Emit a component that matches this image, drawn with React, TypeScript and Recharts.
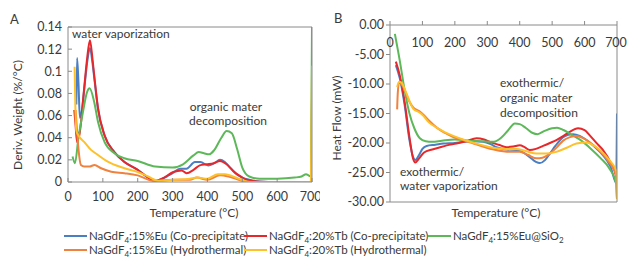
import React from 'react';
import { LineChart, Line, XAxis, YAxis } from 'recharts';

const FONT = 'Lato, "Open Sans", sans-serif';

// ---------- shared ----------
const temperatureTicks = [0, 100, 200, 300, 400, 500, 600, 700];
const derivTicks = [0, 0.02, 0.04, 0.06, 0.08, 0.1, 0.12, 0.14];
const heatTicks = [0, -5, -10, -15, -20, -25, -30];

const seriesColors = ['#4A7FC4', '#E8272B', '#5DB85A', '#F0823F', '#FDC12A'];

// ---------- Panel A: derivative weight (%/°C) ----------
const dtgEuCoTemp = [24, 26, 30, 34, 40, 47, 55, 63, 70, 75, 86, 105, 133, 162, 200, 230, 250, 270, 300, 321, 340, 364, 380, 402, 420, 436, 450, 465, 480, 500, 520, 550, 600, 650, 697, 700];
const dtgEuCoVal = [0.07, 0.112, 0.09, 0.058, 0.065, 0.085, 0.108, 0.121, 0.108, 0.095, 0.066, 0.042, 0.027, 0.018, 0.011, 0.004, 0.001, 0.003, 0.008, 0.012, 0.012, 0.018, 0.018, 0.015, 0.017, 0.02, 0.018, 0.013, 0.008, 0.004, 0.002, 0.0005, 0, 0, 0, 0.02];

const dtgTbCoTemp = [18, 22, 26, 28, 31, 36, 45, 55, 63, 70, 75, 86, 105, 133, 162, 200, 230, 250, 270, 302, 326, 340, 360, 378, 397, 418, 436, 455, 474, 495, 512, 550, 600, 650, 697, 700];
const dtgTbCoVal = [0.065, 0.05, 0.036, 0.045, 0.04, 0.05, 0.08, 0.112, 0.128, 0.112, 0.097, 0.067, 0.042, 0.027, 0.018, 0.011, 0.004, 0.001, 0.003, 0.009, 0.0105, 0.008, 0.011, 0.015, 0.016, 0.017, 0.019, 0.016, 0.01, 0.005, 0.002, 0.0003, 0, 0, 0, 0.075];

const dtgEuSiTemp = [13, 20, 30, 43, 55, 62, 75, 86, 105, 133, 162, 200, 250, 300, 330, 360, 375, 390, 405, 420, 440, 455, 470, 485, 500, 520, 550, 600, 650, 670, 683, 690, 697, 700];
const dtgEuSiVal = [0.023, 0.017, 0.04, 0.0635, 0.0815, 0.0846, 0.0725, 0.0545, 0.036, 0.026, 0.0214, 0.019, 0.014, 0.013, 0.016, 0.024, 0.027, 0.026, 0.025, 0.029, 0.04, 0.046, 0.044, 0.03, 0.013, 0.005, 0.003, 0.003, 0.004, 0.005, 0.007, 0.006, 0.005, 0.14];

const dtgEuHyTemp = [22, 30, 37, 47, 62, 76, 95, 124, 162, 200, 244, 300, 350, 370, 400, 436, 460, 500, 530, 600, 697, 700];
const dtgEuHyVal = [0.065, 0.03, 0.0154, 0.014, 0.014, 0.0154, 0.0124, 0.0093, 0.008, 0.006, 0.001, 0.002, 0.002, 0.004, 0.002, 0.006, 0.005, 0.001, 0, 0, 0, 0.03];

const dtgTbHyTemp = [19, 21, 24, 30, 47, 66, 86, 114, 162, 200, 230, 260, 300, 350, 370, 400, 430, 450, 490, 520, 600, 697, 700];
const dtgTbHyVal = [0.104, 0.07, 0.046, 0.042, 0.036, 0.029, 0.0244, 0.0183, 0.0124, 0.009, 0.005, 0.001, 0.002, 0.003, 0.004, 0.003, 0.007, 0.007, 0.003, 0, 0, 0, 0.105];

// ---------- Panel B: heat flow (mW) ----------
const dscEuCoTemp = [18, 30, 45, 60, 72, 78, 90, 100, 113, 140, 164, 200, 226, 260, 287, 310, 328, 360, 390, 410, 431, 450, 462, 478, 493, 510, 534, 550, 565, 585, 606, 630, 657, 680, 698, 700];
const dscEuCoVal = [-6.8, -9, -13.5, -19.5, -22.5, -22.9, -22, -21, -20.5, -20.3, -20.1, -20, -19.8, -19.7, -19.8, -20.2, -20.7, -21.1, -21.2, -21.6, -22.4, -23.2, -23.4, -22.9, -21.8, -20.5, -19, -18.6, -18.5, -18.8, -19.5, -20.6, -22.1, -24, -26.8, -15];

const dscTbCoTemp = [18, 30, 45, 60, 72, 78, 90, 105, 130, 144, 175, 205, 235, 267, 290, 308, 335, 359, 380, 400, 415, 431, 450, 472, 493, 513, 535, 554, 580, 600, 616, 640, 657, 680, 698, 700];
const dscTbCoVal = [-6.2, -8.5, -13, -19, -22.8, -23.3, -22.6, -21.6, -21.1, -20.9, -20.4, -20.1, -19.7, -19.2, -19.4, -19.8, -20.3, -20.7, -20.6, -20.4, -20.7, -21.2, -21, -20.5, -20, -19.5, -18.8, -18.1, -17.5, -17.8, -18.7, -20.2, -21.2, -23.3, -25.8, -29.5];

const dscEuSiTemp = [15, 30, 45, 60, 75, 92, 110, 130, 160, 200, 240, 280, 320, 345, 365, 385, 400, 420, 440, 455, 475, 500, 515, 535, 560, 590, 620, 650, 675, 698, 700];
const dscEuSiVal = [-1.5, -6, -11, -15, -17.5, -19.2, -19.7, -19.8, -19.6, -19.4, -19.6, -19.7, -19.8, -19, -17.8, -16.7, -16.8, -17.5, -18.3, -18.5, -18, -17.5, -17.4, -17.8, -18.6, -19.6, -21, -22.6, -24.2, -27, -29.5];

const dscEuHyTemp = [22, 24, 28, 35, 45, 60, 72, 90, 103, 120, 144, 170, 195, 220, 246, 270, 298, 320, 349, 375, 400, 425, 452, 470, 493, 515, 534, 555, 575, 600, 626, 650, 675, 698, 700];
const dscEuHyVal = [-14.3, -11.5, -9.8, -10, -11, -13, -14, -14.6, -15.2, -16.2, -17.4, -18.3, -19, -19.4, -19.9, -20.3, -20.8, -21.1, -21.4, -21.5, -21.5, -22, -22.6, -22.5, -21.8, -20.7, -19.6, -19, -18.8, -19.3, -20.3, -21.5, -23.2, -25.5, -29.5];

const dscTbHyTemp = [22, 28, 36, 50, 72, 90, 103, 120, 144, 170, 195, 230, 267, 300, 328, 360, 390, 420, 452, 480, 513, 545, 575, 606, 630, 647, 675, 698, 700];
const dscTbHyVal = [-10.5, -9.6, -9.8, -11.5, -14.2, -14.8, -15.4, -16.5, -17.4, -18.2, -18.8, -19.5, -20.1, -20.6, -20.9, -21, -21, -21.4, -21.8, -21.8, -21.5, -20.8, -20.1, -19.9, -20.5, -21.2, -22.8, -24.8, -29.5];

const zip = (ts: number[], vs: number[]) => ts.map((t, i) => ({ t, v: vs[i] }));

const panelA = [
  zip(dtgEuCoTemp, dtgEuCoVal),
  zip(dtgTbCoTemp, dtgTbCoVal),
  zip(dtgEuSiTemp, dtgEuSiVal),
  zip(dtgEuHyTemp, dtgEuHyVal),
  zip(dtgTbHyTemp, dtgTbHyVal),
];
const panelB = [
  zip(dscEuCoTemp, dscEuCoVal),
  zip(dscTbCoTemp, dscTbCoVal),
  zip(dscEuSiTemp, dscEuSiVal),
  zip(dscEuHyTemp, dscEuHyVal),
  zip(dscTbHyTemp, dscTbHyVal),
];

const AXIS = '#8a8a8a';
const TXT = '#3a3a3a';
const tickStyle = { fontSize: 12.5, fill: TXT, fontFamily: FONT };

const Txt = ({ x, y, size = 12, anchor = 'left', rotate = false, children }: any) => {
  const style: React.CSSProperties = {
    position: 'absolute',
    top: y - size / 2,
    lineHeight: `${size}px`,
    fontSize: size,
    color: TXT,
    whiteSpace: 'nowrap',
    fontFamily: FONT,
  };
  if (rotate) {
    style.left = x;
    style.transform = 'translate(-50%, 0) rotate(-90deg)';
  } else if (anchor === 'center') {
    style.left = x;
    style.transform = 'translateX(-50%)';
  } else {
    style.left = x;
  }
  return <div style={style}>{children}</div>;
};

const Sub = ({ children }: any) => (
  <span style={{ fontSize: 8, position: 'relative', top: 3 }}>{children}</span>
);

const legendItems = [
  { color: seriesColors[0], col: 0, row: 0, label: <>NaGdF<Sub>4</Sub>:15%Eu (Co-precipitate)</> },
  { color: seriesColors[1], col: 1, row: 0, label: <>NaGdF<Sub>4</Sub>:20%Tb (Co-precipitate)</> },
  { color: seriesColors[2], col: 2, row: 0, label: <>NaGdF<Sub>4</Sub>:15%Eu@SiO<Sub>2</Sub></> },
  { color: seriesColors[3], col: 0, row: 1, label: <>NaGdF<Sub>4</Sub>:15%Eu (Hydrothermal)</> },
  { color: seriesColors[4], col: 1, row: 1, label: <>NaGdF<Sub>4</Sub>:20%Tb (Hydrothermal)</> },
];
const legendCols = [64, 244, 428];
const legendRows = [236, 250];

const BTick = (props: any) => {
  const { x, payload } = props;
  return (
    <text x={x} y={47} textAnchor="middle" style={tickStyle} fill={TXT}>
      {payload.value}
    </text>
  );
};

export default function App() {
  return (
    <div style={{ position: 'absolute', left: 0, top: 0, width: 628, height: 257, background: '#fff', fontFamily: FONT, overflow: 'hidden' }}>
      {/* Panel A */}
      <div style={{ position: 'absolute', left: 0, top: 0 }}>
        <LineChart width={320} height={225} margin={{ top: 26, right: 7, bottom: 0, left: 0 }}>
          <XAxis
            dataKey="t"
            type="number"
            domain={[0, 700]}
            ticks={temperatureTicks}
            allowDataOverflow
            height={43}
            tick={tickStyle}
            tickSize={-4}
            tickMargin={14}
            axisLine={{ stroke: AXIS }}
            tickLine={{ stroke: AXIS }}
          />
          <XAxis xAxisId="top" orientation="top" type="number" domain={[0, 1]} height={1} tick={false} tickLine={false} axisLine={{ stroke: AXIS }} />
          <YAxis
            type="number"
            domain={[0, 0.14]}
            ticks={derivTicks}
            allowDataOverflow
            width={68}
            tick={tickStyle}
            tickSize={-4}
            tickMargin={10}
            tickFormatter={(v: number) => String(Number(v.toFixed(2)))}
            axisLine={{ stroke: AXIS }}
            tickLine={{ stroke: AXIS }}
          />
          <YAxis yAxisId="right" orientation="right" type="number" domain={[0, 1]} width={1} tick={false} tickLine={false} axisLine={{ stroke: AXIS }} />
          {panelA.map((d, i) => (
            <Line key={i} data={d} dataKey="v" type="monotone" stroke={seriesColors[i]} strokeWidth={2} dot={false} isAnimationActive={false} />
          ))}
        </LineChart>
      </div>

      {/* Panel B */}
      <div style={{ position: 'absolute', left: 320, top: 0 }}>
        <LineChart width={308} height={225} margin={{ top: 24, right: 10, bottom: 22, left: 0 }}>
          <XAxis
            dataKey="t"
            type="number"
            orientation="top"
            domain={[0, 700]}
            ticks={temperatureTicks}
            allowDataOverflow
            height={1}
            tick={<BTick />}
            tickSize={4}
            tickMargin={0}
            axisLine={{ stroke: AXIS }}
            tickLine={{ stroke: AXIS }}
          />
          <XAxis xAxisId="bottom" orientation="bottom" type="number" domain={[0, 1]} height={1} tick={false} tickLine={false} axisLine={{ stroke: AXIS }} />
          <YAxis
            type="number"
            domain={[-30, 0]}
            ticks={heatTicks}
            allowDataOverflow
            width={70}
            tick={tickStyle}
            tickSize={4}
            tickMargin={2}
            tickFormatter={(v: number) => v.toFixed(2)}
            axisLine={{ stroke: AXIS }}
            tickLine={{ stroke: AXIS }}
          />
          <YAxis yAxisId="right" orientation="right" type="number" domain={[0, 1]} width={1} tick={false} tickLine={false} axisLine={{ stroke: AXIS }} />
          {panelB.map((d, i) => (
            <Line key={i} data={d} dataKey="v" type="monotone" stroke={seriesColors[i]} strokeWidth={2} dot={false} isAnimationActive={false} />
          ))}
        </LineChart>
      </div>

      {/* Panel letters & annotations */}
      <Txt x={10} y={19} size={13}>A</Txt>
      <Txt x={334} y={18} size={13}>B</Txt>
      <Txt x={72} y={34}>water vaporization</Txt>
      <Txt x={226} y={107} anchor="center">organic mater</Txt>
      <Txt x={228} y={121} anchor="center">decomposition</Txt>
      <Txt x={500} y={83}>exothermic/</Txt>
      <Txt x={500} y={98}>organic mater</Txt>
      <Txt x={500} y={113}>decomposition</Txt>
      <Txt x={400} y={172}>exothermic/</Txt>
      <Txt x={400} y={186}>water vaporization</Txt>

      {/* Axis titles */}
      <Txt x={18} y={115} rotate>Deriv. Weight (%/°C)</Txt>
      <Txt x={337} y={118} rotate>Heat Flow (mW)</Txt>
      <Txt x={194} y={213} anchor="center">Temperature (°C)</Txt>
      <Txt x={496} y={213} anchor="center">Temperature (°C)</Txt>

      {/* Legend */}
      {legendItems.map((it, i) => (
        <div key={i} style={{ position: 'absolute', left: legendCols[it.col], top: legendRows[it.row] - 6.5, height: 13, display: 'flex', alignItems: 'center', fontSize: 11.5, color: TXT, whiteSpace: 'nowrap', fontFamily: FONT }}>
          <div style={{ width: 23, height: 2, background: it.color, marginRight: 2 }} />
          <span style={{ lineHeight: '13px' }}>{it.label}</span>
        </div>
      ))}
    </div>
  );
}
